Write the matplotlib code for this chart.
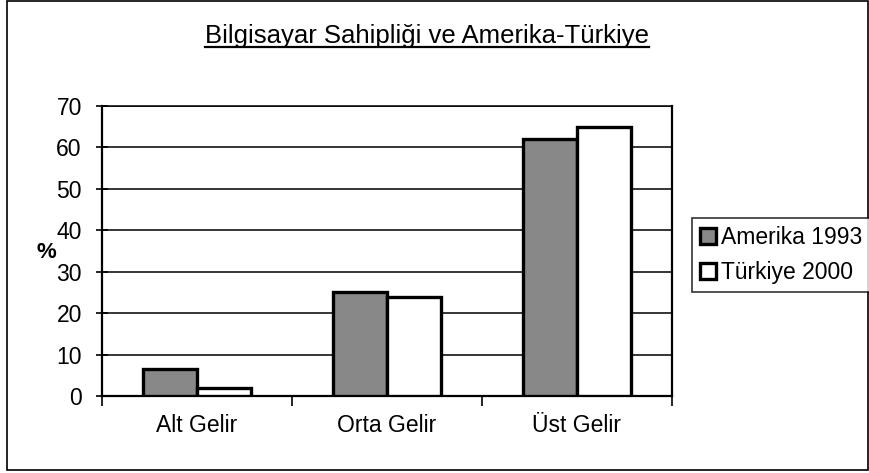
import numpy as np
import matplotlib.pyplot as plt
from matplotlib.patches import Rectangle

# Veriler
kategoriler = ['Alt Gelir', 'Orta Gelir', 'Üst Gelir']
amerika_1993 = [6.5, 25, 62]
turkiye_2000 = [2, 24, 65]
seriler = ['Amerika 1993', 'Türkiye 2000']
y_ticks = [0, 10, 20, 30, 40, 50, 60, 70]

plt.rcParams['font.family'] = ['Liberation Sans', 'DejaVu Sans']

fig = plt.figure(figsize=(8.7, 4.73), dpi=100)
ax = fig.add_axes([102 / 870, 77 / 473, 570 / 870, 290 / 473])

# Dış çerçeve
fig.patches.append(Rectangle((7 / 870, 3 / 473), 861 / 870, 469 / 473,
                             transform=fig.transFigure, fill=False,
                             edgecolor='black', linewidth=1.2))

x = np.arange(len(kategoriler))
w = 0.285
ax.bar(x - w / 2, amerika_1993, w, color='#888888', edgecolor='black',
       linewidth=2.4, label=seriler[0], zorder=3)
ax.bar(x + w / 2, turkiye_2000, w, color='white', edgecolor='black',
       linewidth=2.4, label=seriler[1], zorder=3)

ax.set_xlim(-0.5, len(kategoriler) - 0.5)
ax.set_ylim(0, 70)
ax.set_yticks(y_ticks)
ax.yaxis.grid(True, color='black', linewidth=1.1, zorder=0)
ax.set_axisbelow(True)

ax.set_xticks(x)
ax.set_xticklabels(kategoriler, fontsize=16.5)
ax.set_xticks(np.arange(len(kategoriler) + 1) - 0.5, minor=True)
ax.tick_params(axis='x', which='major', length=0, pad=13)
ax.tick_params(axis='x', which='minor', length=7, width=1.2, direction='out')
ax.tick_params(axis='y', labelsize=16.5, length=9, width=1.2,
               direction='inout', pad=10)

for s in ['left', 'bottom', 'right']:
    ax.spines[s].set_linewidth(1.6)
ax.spines['top'].set_linewidth(1.1)

fig.text(46 / 870, 1 - 253 / 473, '%', fontsize=16, fontweight='bold',
         ha='center', va='center')

baslik = fig.text(427 / 870, 1 - 36 / 473,
                  'Bilgisayar Sahipliği ve Amerika-Türkiye',
                  fontsize=18.5, ha='center', va='center')
# alt çizgi
fig.canvas.draw()
bb = baslik.get_window_extent()
fig.add_artist(plt.Line2D([bb.x0 / 870, bb.x1 / 870],
                          [(bb.y0 + 1) / 473, (bb.y0 + 1) / 473],
                          transform=fig.transFigure, color='black', linewidth=1.6))

leg = fig.legend(loc='center left', bbox_to_anchor=(692 / 870, 1 - 255 / 473),
                 fontsize=16.5, frameon=True, fancybox=False, edgecolor='black',
                 handlelength=0.7, handleheight=0.7, handletextpad=0.2,
                 borderpad=0.35, labelspacing=0.5, borderaxespad=0)
leg.get_frame().set_linewidth(1.2)

fig.savefig('out.png', dpi=100)
